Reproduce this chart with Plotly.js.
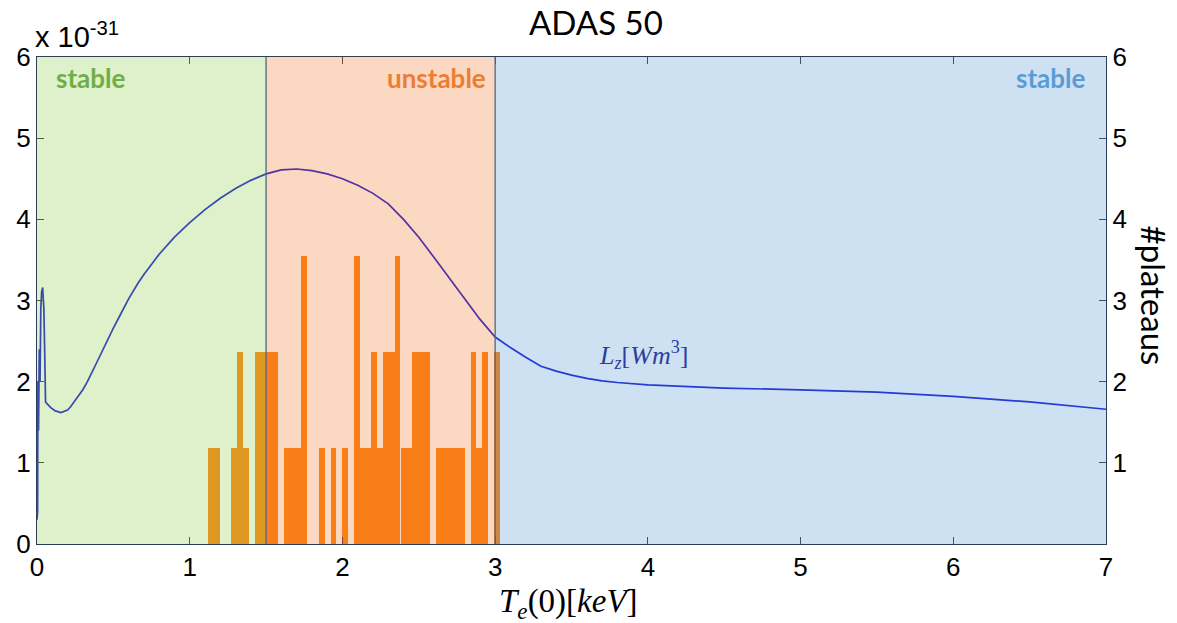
<!DOCTYPE html>
<html>
<head>
<meta charset="utf-8">
<script src="https://cdn.plot.ly/plotly-3.0.1.min.js"></script>
<style>html,body{margin:0;padding:0;background:#fff;}#chart{width:1177px;height:623px;}</style>
</head>
<body>
<div id="chart"></div>
<script>
// Radiated power coefficient L_z (x 1e-31 W m^3) vs central electron temperature (keV)
const teKeV = [0, 0.004, 0.006, 0.01, 0.015, 0.02, 0.025, 0.03, 0.037, 0.045, 0.05, 0.056, 0.07, 0.09, 0.12, 0.157, 0.2, 0.22, 0.3, 0.33, 0.4, 0.44, 0.5, 0.55, 0.6, 0.66, 0.7, 0.8, 0.9, 1.0, 1.1, 1.2, 1.3, 1.4, 1.5, 1.6, 1.7, 1.8, 1.9, 2.0, 2.1, 2.2, 2.3, 2.4, 2.5, 2.6, 2.7, 2.8, 2.9, 3.0, 3.05, 3.1, 3.2, 3.3, 3.4, 3.5, 3.6, 3.7, 3.8, 4.0, 4.5, 5.0, 5.5, 6.0, 6.5, 7.0];
const lzValues = [0.3, 0.4, 2.0, 1.4, 2.4, 2.0, 2.9, 3.1, 3.16, 2.9, 2.4, 1.75, 1.72, 1.68, 1.64, 1.62, 1.65, 1.69, 1.9, 2.0, 2.27, 2.43, 2.66, 2.84, 3.02, 3.21, 3.32, 3.57, 3.78, 3.96, 4.12, 4.26, 4.38, 4.48, 4.56, 4.61, 4.62, 4.6, 4.56, 4.5, 4.42, 4.32, 4.19, 4.0, 3.78, 3.53, 3.28, 3.02, 2.77, 2.55, 2.48, 2.42, 2.3, 2.19, 2.13, 2.08, 2.04, 2.01, 1.99, 1.96, 1.92, 1.9, 1.87, 1.82, 1.75, 1.66];

// Histogram of plateaus (bin centres in keV, counts)
const binCenters = [1.139, 1.177, 1.292, 1.330, 1.368, 1.445, 1.483, 1.521, 1.559, 1.636, 1.674, 1.712, 1.750, 1.865, 1.941, 2.018, 2.094, 2.132, 2.170, 2.209, 2.247, 2.285, 2.323, 2.361, 2.400, 2.438, 2.476, 2.514, 2.553, 2.629, 2.667, 2.705, 2.744, 2.782, 2.858, 2.896, 2.934, 3.011];
const plateauCounts = [1, 1, 1, 2, 1, 2, 2, 2, 2, 1, 1, 1, 3, 1, 1, 1, 3, 1, 1, 2, 1, 2, 2, 3, 1, 1, 2, 2, 2, 1, 1, 1, 1, 1, 2, 1, 2, 2];
const binWidth = 0.0382;

// Stability regions (keV)
const regionEdges = [0, 1.5, 3.0, 7];
const regionLabels = ['stable', 'unstable', 'stable'];

const xTicks = [0, 1, 2, 3, 4, 5, 6, 7];
const yTicks = [0, 1, 2, 3, 4, 5, 6];
const y2Ticks = [1, 2, 3, 4, 5, 6];

const regionColors = ['#92D050', '#ED7D31', '#5B9BD5'];
const labelColors = ['#70AD47', '#ED7D31', '#5B9BD5'];
const labelX = [0.355, 2.95, 6.88];
const labelAnchor = ['center', 'right', 'right'];

const traces = [
  {
    type: 'bar', x: binCenters, y: plateauCounts, width: binWidth,
    yaxis: 'y3', marker: {color: '#FF7F0E', line: {width: 0}},
    hoverinfo: 'x+y', showlegend: false
  },
  {
    type: 'scatter', mode: 'lines', x: teKeV, y: lzValues,
    line: {color: '#1010D8', width: 1.7}, showlegend: false
  }
];

const shapes = [];
for (let i = 0; i < 3; i++) {
  shapes.push({type: 'rect', xref: 'x', yref: 'y', x0: regionEdges[i], x1: regionEdges[i + 1], y0: 0, y1: 6,
    fillcolor: regionColors[i], opacity: 0.3, line: {width: 0}, layer: 'above'});
}
[regionEdges[1], regionEdges[2]].forEach(v => {
  shapes.push({type: 'line', xref: 'x', yref: 'y', x0: v, x1: v, y0: 0, y1: 6,
    line: {color: '#4D6785', width: 1.3}, layer: 'above'});
});

const annotations = [
  {text: 'ADAS 50', xref: 'paper', yref: 'paper', x: 0.523, y: 1, yshift: 35, xanchor: 'center', yanchor: 'middle',
   showarrow: false, font: {family: 'Lato, Open Sans, sans-serif', size: 33, color: '#000'}},
  {text: 'x 10<sup>-31</sup>', xref: 'paper', yref: 'paper', x: 0, y: 1, xshift: -4, yshift: 2, xanchor: 'left', yanchor: 'bottom',
   showarrow: false, font: {family: 'Liberation Sans, Arial, sans-serif', size: 29, color: '#000'}},
  {text: '#plateaus', xref: 'paper', yref: 'paper', x: 1, y: 0.5, xshift: 48, yshift: 5, textangle: 90, xanchor: 'center', yanchor: 'middle',
   showarrow: false, font: {family: 'Lato, Open Sans, sans-serif', size: 33, color: '#000'}},
  {text: '<i>L</i><sub><i>z</i></sub>[<i>Wm</i><sup>3</sup>]', xref: 'x', yref: 'y', x: 3.97, y: 2.33, xanchor: 'center', yanchor: 'middle',
   showarrow: false, font: {family: 'Liberation Serif, DejaVu Serif, serif', size: 26, color: '#2F3C9E'}},
  {text: '<i>T</i><sub><i>e</i></sub>(0)[<i>keV</i>]', xref: 'x', yref: 'paper', x: 3.48, y: 0, yshift: -37, xanchor: 'center', yanchor: 'top',
   showarrow: false, font: {family: 'Liberation Serif, DejaVu Serif, serif', size: 33, color: '#000'}}
];
for (let i = 0; i < 3; i++) {
  annotations.push({text: '<b>' + regionLabels[i] + '</b>', xref: 'x', yref: 'paper', x: labelX[i], y: 1, yshift: -21,
    xanchor: labelAnchor[i], yanchor: 'middle', showarrow: false,
    font: {family: 'Lato, Open Sans, sans-serif', size: 26, color: labelColors[i]}});
}

const axisFont = {family: 'Liberation Sans, Arial, sans-serif', size: 26, color: '#000'};

const layout = {
  width: 1177, height: 623,
  margin: {l: 37, r: 71, t: 57, b: 79},
  paper_bgcolor: '#fff', plot_bgcolor: '#fff',
  bargap: 0, showlegend: false,
  xaxis: {
    range: [0, 7], tickvals: xTicks, ticktext: xTicks.map(String),
    ticks: 'inside', ticklen: 7, tickcolor: '#333', showline: true, linecolor: '#2C3E5A', linewidth: 1.2,
    mirror: 'ticks', showgrid: false, zeroline: false, tickfont: axisFont
  },
  yaxis: {
    range: [0, 6], tickvals: yTicks, ticktext: yTicks.map(String),
    ticks: 'inside', ticklen: 7, tickcolor: '#333', showline: true, linecolor: '#2C3E5A', linewidth: 1.2,
    mirror: false, showgrid: false, zeroline: false, tickfont: axisFont
  },
  yaxis2: {
    range: [0, 6], overlaying: 'y', side: 'right', tickvals: y2Ticks, ticktext: y2Ticks.map(String),
    ticks: 'inside', ticklen: 7, tickcolor: '#333', showline: true, linecolor: '#2C3E5A', linewidth: 1.2,
    showgrid: false, zeroline: false, tickfont: axisFont
  },
  yaxis3: {
    range: [0, 5.07], overlaying: 'y', visible: false, showgrid: false, zeroline: false
  },
  shapes: shapes,
  annotations: annotations
};

// empty trace to activate the right-hand axis
traces.push({type: 'scatter', mode: 'lines', x: [0, 7], y: [null, null], yaxis: 'y2', showlegend: false, hoverinfo: 'skip'});

Plotly.newPlot('chart', traces, layout, {displayModeBar: false, staticPlot: true});
</script>
</body>
</html>
